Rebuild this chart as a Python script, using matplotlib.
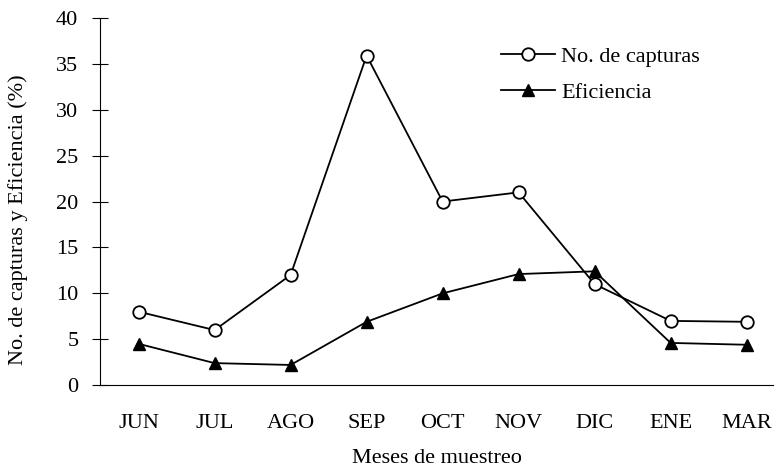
import numpy as np
import matplotlib.pyplot as plt

plt.rc('font', family='Liberation Serif')

meses = ['JUN', 'JUL', 'AGO', 'SEP', 'OCT', 'NOV', 'DIC', 'ENE', 'MAR']
capturas = [8, 6, 12, 35.9, 20, 21, 11, 7, 6.9]
eficiencia = [4.5, 2.4, 2.2, 6.9, 10.0, 12.1, 12.4, 4.6, 4.4]
yticks = [0, 5, 10, 15, 20, 25, 30, 35, 40]

x = np.arange(len(meses))

fig = plt.figure(figsize=(7.74, 4.72), dpi=100)
ax = fig.add_axes([0.129, 0.184, 0.871, 0.778])

ax.plot(x, capturas, '-o', color='black', lw=1.3, ms=9,
        mfc='white', mec='black', mew=1.3, label='No. de capturas')
ax.plot(x, eficiencia, '-^', color='black', lw=1.3, ms=9,
        mfc='black', mec='black', label='Eficiencia')

ax.set_xlim(-0.51, 8.36)
ax.set_ylim(0, 40)
ax.set_yticks(yticks)
ax.set_xticks(x)
ax.set_xticklabels(meses)
ax.tick_params(axis='y', direction='inout', length=11, width=0.8, labelsize=16, pad=10)
ax.tick_params(axis='x', length=0, labelsize=16, pad=21)

for s in ['top', 'right']:
    ax.spines[s].set_visible(False)
ax.spines['left'].set_linewidth(0.8)
ax.spines['bottom'].set_linewidth(0.8)

ax.set_xlabel('Meses de muestreo', fontsize=16, labelpad=11)
ax.set_ylabel('No. de capturas y Eficiencia (%)', fontsize=16)
ax.yaxis.set_label_coords(-0.106, 0.45)

ax.legend(loc='upper left', bbox_to_anchor=(0.621, 0.944), bbox_transform=fig.transFigure,
          frameon=False, fontsize=16, handlelength=2.45, handletextpad=0.27, labelspacing=0.68)

plt.savefig('out.png', dpi=100)
